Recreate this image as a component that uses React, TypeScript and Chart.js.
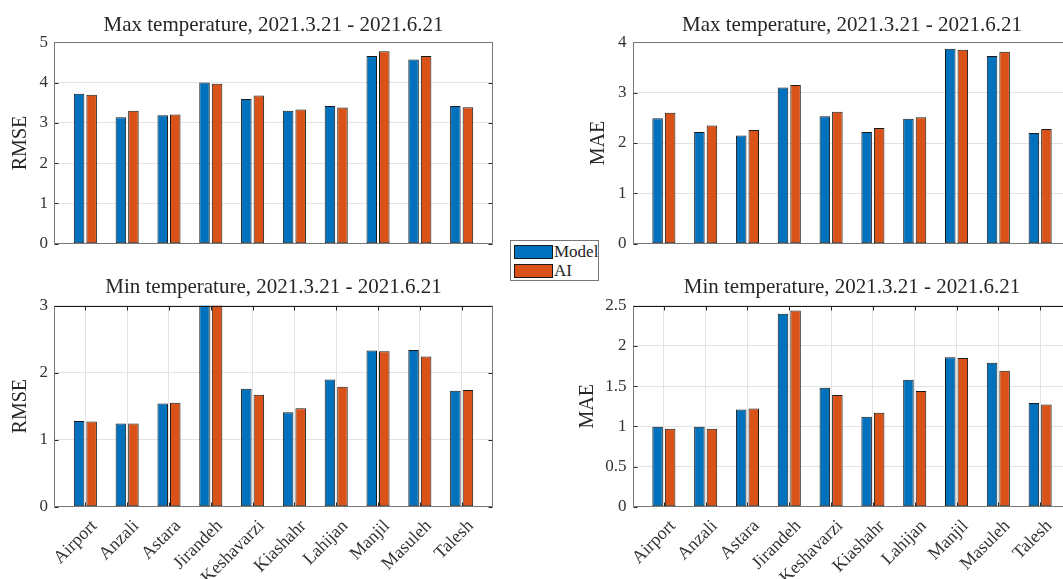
import React, { useEffect, useRef } from 'react';
import { Chart, registerables } from 'chart.js';

Chart.register(...registerables);

const FONT = "'Liberation Serif', 'Times New Roman', serif";

const stations = ['Airport', 'Anzali', 'Astara', 'Jirandeh', 'Keshavarzi', 'Kiashahr', 'Lahijan', 'Manjil', 'Masuleh', 'Talesh'];
const seriesNames = ['Model', 'AI'];
const seriesColors = ['#0072BD', '#D95319'];

const maxTitle = 'Max temperature, 2021.3.21 - 2021.6.21';
const minTitle = 'Min temperature, 2021.3.21 - 2021.6.21';

const maxRmseModel = [3.72, 3.14, 3.19, 4.0, 3.59, 3.3, 3.42, 4.66, 4.57, 3.42];
const maxRmseAI = [3.7, 3.3, 3.21, 3.97, 3.68, 3.33, 3.38, 4.78, 4.66, 3.39];
const maxMaeModel = [2.49, 2.22, 2.15, 3.1, 2.53, 2.22, 2.48, 3.87, 3.73, 2.2];
const maxMaeAI = [2.6, 2.35, 2.26, 3.15, 2.62, 2.3, 2.51, 3.85, 3.81, 2.28];
const minRmseModel = [1.28, 1.24, 1.54, 3.08, 1.76, 1.41, 1.9, 2.33, 2.34, 1.73];
const minRmseAI = [1.27, 1.24, 1.55, 3.14, 1.67, 1.47, 1.79, 2.32, 2.24, 1.74];
const minMaeModel = [0.995, 0.995, 1.21, 2.4, 1.48, 1.12, 1.58, 1.86, 1.79, 1.29];
const minMaeAI = [0.97, 0.97, 1.22, 2.44, 1.39, 1.17, 1.44, 1.85, 1.69, 1.27];

const maxRmseAxis = [0, 5, 1];
const maxMaeAxis = [0, 4, 1];
const minRmseAxis = [0, 3, 1];
const minMaeAxis = [0, 2.5, 0.5];

type Panel = {
  left: number; top: number; width: number; height: number;
  yAxisWidth: number; xAxisHeight: number; padRight: number;
  titlePadTop: number; titlePadBottom: number; ylabelPad: number;
  title: string; ylabel: string; axis: number[];
  model: number[]; ai: number[]; showX: boolean;
};

const panels: Panel[] = [
  { left: 0, top: 0, width: 520, height: 270, yAxisWidth: 54, xAxisHeight: 26.3, padRight: 27,
    titlePadTop: 12.4, titlePadBottom: 4.7, ylabelPad: 8.7, title: maxTitle, ylabel: 'RMSE', axis: maxRmseAxis,
    model: maxRmseModel, ai: maxRmseAI, showX: false },
  { left: 560, top: 0, width: 540, height: 270, yAxisWidth: 72.5, xAxisHeight: 26.3, padRight: 28.5,
    titlePadTop: 12.4, titlePadBottom: 4.7, ylabelPad: 27, title: maxTitle, ylabel: 'MAE', axis: maxMaeAxis,
    model: maxMaeModel, ai: maxMaeAI, showX: false },
  { left: 0, top: 270, width: 520, height: 309, yAxisWidth: 54, xAxisHeight: 72.3, padRight: 27,
    titlePadTop: 4.4, titlePadBottom: 6.1, ylabelPad: 8.7, title: minTitle, ylabel: 'RMSE', axis: minRmseAxis,
    model: minRmseModel, ai: minRmseAI, showX: true },
  { left: 560, top: 270, width: 540, height: 309, yAxisWidth: 72.5, xAxisHeight: 72.3, padRight: 28.5,
    titlePadTop: 4.4, titlePadBottom: 6.1, ylabelPad: 15.5, title: minTitle, ylabel: 'MAE', axis: minMaeAxis,
    model: minMaeModel, ai: minMaeAI, showX: true },
];

const boxPlugin = {
  id: 'matlabBox',
  afterDatasetsDraw(chart: any, _args: any, opts: any) {
    const { ctx, chartArea } = chart;
    const { left, right, top, bottom } = chartArea;
    const xs = chart.scales.x;
    const ys = chart.scales.y;
    const tl = 4;
    const L = Math.round(left) + 0.5;
    const R = Math.round(right) - 0.5;
    const T = Math.round(top) + 0.5;
    const B = Math.round(bottom) - 0.5;
    ctx.save();
    ctx.lineWidth = 1;
    ctx.strokeStyle = '#262626';
    ctx.beginPath();
    ys.ticks.forEach((t: any) => {
      const py = Math.round(ys.getPixelForValue(t.value)) + 0.5;
      ctx.moveTo(L, py); ctx.lineTo(L + tl, py);
      ctx.moveTo(R, py); ctx.lineTo(R - tl, py);
    });
    if (opts.xTicks) {
      xs.ticks.forEach((t: any) => {
        const px = Math.round(xs.getPixelForValue(t.value)) + 0.5;
        ctx.moveTo(px, B); ctx.lineTo(px, B - tl);
        ctx.moveTo(px, T); ctx.lineTo(px, T + tl);
      });
    }
    ctx.stroke();
    ctx.strokeStyle = '#777777';
    ctx.beginPath();
    ctx.moveTo(L, T); ctx.lineTo(L, B); ctx.lineTo(R, B); ctx.lineTo(R, T);
    ctx.stroke();
    ctx.strokeStyle = opts.topColor;
    ctx.beginPath();
    ctx.moveTo(L, T); ctx.lineTo(R, T);
    ctx.stroke();
    ctx.restore();
  },
};

function PanelChart({ p }: { p: Panel }) {
  const ref = useRef<HTMLCanvasElement | null>(null);
  useEffect(() => {
    if (!ref.current) return;
    const barStyle = {
      borderColor: '#1a1a1a',
      borderWidth: 1,
      borderSkipped: false,
      categoryPercentage: 0.6,
      barPercentage: 0.84,
    };
    const chart = new Chart(ref.current, {
      type: 'bar',
      data: {
        datasets: [
          {
            label: seriesNames[0],
            data: p.model.map((v, i) => ({ x: i + 1, y: v })),
            backgroundColor: seriesColors[0],
            ...barStyle,
          },
          {
            label: seriesNames[1],
            data: p.ai.map((v, i) => ({ x: i + 1, y: v })),
            backgroundColor: seriesColors[1],
            ...barStyle,
          },
        ],
      } as any,
      options: {
        responsive: false,
        animation: false,
        layout: { padding: { left: 0, right: p.padRight, top: 0, bottom: 0 } },
        plugins: {
          legend: { display: false },
          tooltip: { enabled: false },
          title: {
            display: true,
            text: p.title,
            fullSize: false,
            color: '#262626',
            font: { family: FONT, size: 21, weight: 'normal', lineHeight: 1.2 },
            padding: { top: p.titlePadTop, bottom: p.titlePadBottom },
          },
          matlabBox: { xTicks: p.showX, topColor: p.showX ? '#1a1a1a' : '#777777' },
        } as any,
        scales: {
          x: {
            type: 'linear',
            min: 0.25,
            max: 10.75,
            bounds: 'data',
            offset: false,
            afterBuildTicks: (axis: any) => {
              axis.ticks = stations.map((_, i) => ({ value: i + 1 }));
            },
            afterFit: (axis: any) => { axis.height = p.xAxisHeight; },
            grid: { display: p.showX, offset: false, color: '#e3e3e3', drawTicks: false },
            border: { display: false },
            ticks: {
              display: p.showX,
              autoSkip: false,
              minRotation: 45,
              maxRotation: 45,
              padding: 9,
              labelOffset: 9,
              color: '#333333',
              font: { family: FONT, size: 18 },
              callback: (v: any) => stations[Math.round(Number(v)) - 1] ?? '',
            },
          },
          y: {
            type: 'linear',
            min: p.axis[0],
            max: p.axis[1],
            afterFit: (axis: any) => { axis.width = p.yAxisWidth; },
            grid: { color: '#e3e3e3', drawTicks: false },
            border: { display: false },
            ticks: {
              stepSize: p.axis[2],
              padding: 6,
              color: '#333333',
              font: { family: FONT, size: 17 },
              callback: (v: any) => String(Number(v)),
            },
            title: {
              display: true,
              text: p.ylabel,
              color: '#262626',
              font: { family: FONT, size: 20, lineHeight: 1.2 },
              padding: { top: p.ylabelPad, bottom: 0 },
            },
          },
        } as any,
      },
      plugins: [boxPlugin as any],
    });
    return () => chart.destroy();
  }, [p]);
  return (
    <canvas
      ref={ref}
      width={p.width}
      height={p.height}
      style={{ position: 'absolute', left: p.left, top: p.top, width: p.width, height: p.height }}
    />
  );
}

export default function App() {
  return (
    <div style={{ position: 'absolute', left: 0, top: 0, width: 1063, height: 579, overflow: 'hidden', background: '#ffffff' }}>
      {panels.map((p, i) => <PanelChart key={i} p={p} />)}
      <div
        style={{
          position: 'absolute', left: 510, top: 239.5, width: 89, height: 41.5, boxSizing: 'border-box',
          border: '1px solid #777777', background: '#ffffff', fontFamily: FONT, fontSize: 17, color: '#262626', zIndex: 2,
        }}
      >
        {seriesNames.map((n, i) => (
          <div key={n} style={{ position: 'absolute', left: 3, top: 4.5 + i * 19, height: 14, display: 'flex', alignItems: 'center' }}>
            <span style={{ display: 'inline-block', width: 39, height: 14, boxSizing: 'border-box', background: seriesColors[i], border: '1px solid #1a1a1a' }} />
            <span style={{ marginLeft: 1, lineHeight: '14px', whiteSpace: 'nowrap' }}>{n}</span>
          </div>
        ))}
      </div>
    </div>
  );
}
